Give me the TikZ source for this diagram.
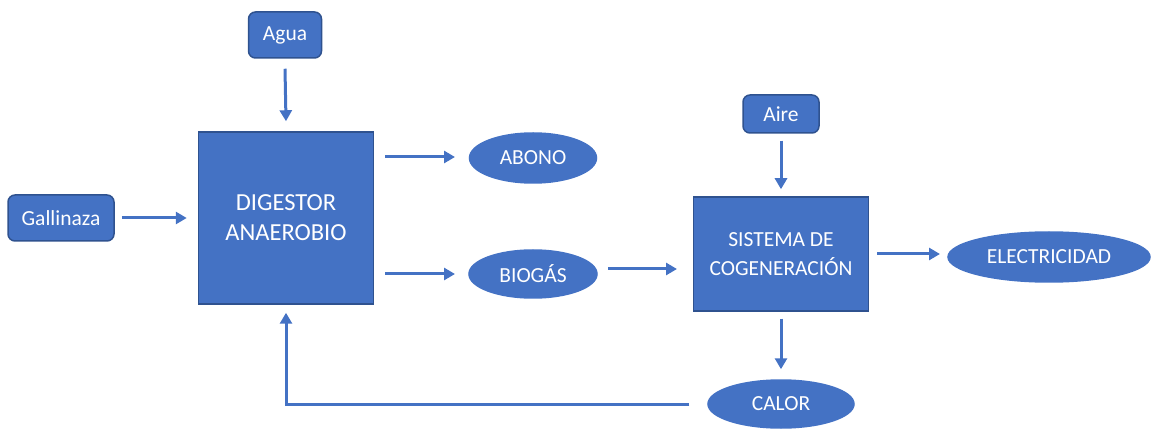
\documentclass[tikz,border=0pt]{standalone}
\usepackage{fontspec}
\setmainfont{Carlito}
\usetikzlibrary{arrows.meta,shapes.geometric}
\definecolor{boxblue}{HTML}{4472C4}
\definecolor{edgeblue}{HTML}{2F528F}
\tikzset{
  x=1pt, y=-1pt,
  blk/.style={draw=edgeblue, line width=1.5pt, fill=boxblue, text=white, align=center, inner sep=0pt},
  tag/.style={blk, rounded corners=7pt, font=\fontsize{21.5}{24}\selectfont},
  oval/.style={blk, ellipse, font=\fontsize{21.5}{24}\selectfont, draw=boxblue},
  flow/.style={draw=boxblue, line width=3pt, -{Triangle[length=11pt,width=12pt]}}
}
\begin{document}
\begin{tikzpicture}
\useasboundingbox (0,0) rectangle (1154,430);
% process blocks
\node[blk, minimum width=175pt, minimum height=172pt, font=\fontsize{24.5}{30}\selectfont] (dig) at (286,218) {DIGESTOR\\ANAEROBIO};
\node[blk, minimum width=175pt, minimum height=114pt, font=\fontsize{21.5}{29}\selectfont] (sis) at (781,254) {SISTEMA DE\\COGENERACIÓN};
% inputs
\node[tag, minimum width=73pt, minimum height=46pt] (agua) at (285,35) {Agua};
\node[tag, minimum width=106pt, minimum height=46pt] (gal) at (61,218) {Gallinaza};
\node[tag, minimum width=76pt, minimum height=38pt] (aire) at (781,114) {Aire};
% products
\node[oval, minimum width=127pt, minimum height=50pt] (abono) at (533,158) {ABONO};
\node[oval, minimum width=128pt, minimum height=48pt] (bio) at (533,274) {BIOGÁS};
\node[oval, minimum width=202pt, minimum height=50pt] (elec) at (1049,257) {ELECTRICIDAD};
\node[oval, minimum width=146pt, minimum height=48pt] (calor) at (781,404) {CALOR};
% connectors (free ends sit a small gap away from the shapes)
\draw[flow] ([yshift=-10pt]agua.south) -- ([yshift=10pt]dig.north);
\draw[flow] ([xshift=7pt]gal.east) -- ([xshift=-11pt]dig.west);
\coordinate (d1) at (385,157);
\coordinate (a1) at (455,157);
\draw[flow] (d1) -- (a1);
\coordinate (d2) at (385,274);
\coordinate (b2) at (455,274);
\draw[flow] (d2) -- (b2);
\coordinate (b3) at (608,269);
\coordinate (s3) at (677,269);
\draw[flow] (b3) -- (s3);
\draw[flow] ([yshift=-7pt]aire.south) -- ([yshift=7pt]sis.north);
\coordinate (e1) at (940,254);
\draw[flow] ([xshift=8pt]sis.east) -- (e1);
\draw[flow] ([yshift=-7pt]sis.south) -- ([yshift=10pt]calor.north);
\draw[flow] ([xshift=-18pt]calor.west) -| ([yshift=-8pt]dig.south);
\end{tikzpicture}
\end{document}
